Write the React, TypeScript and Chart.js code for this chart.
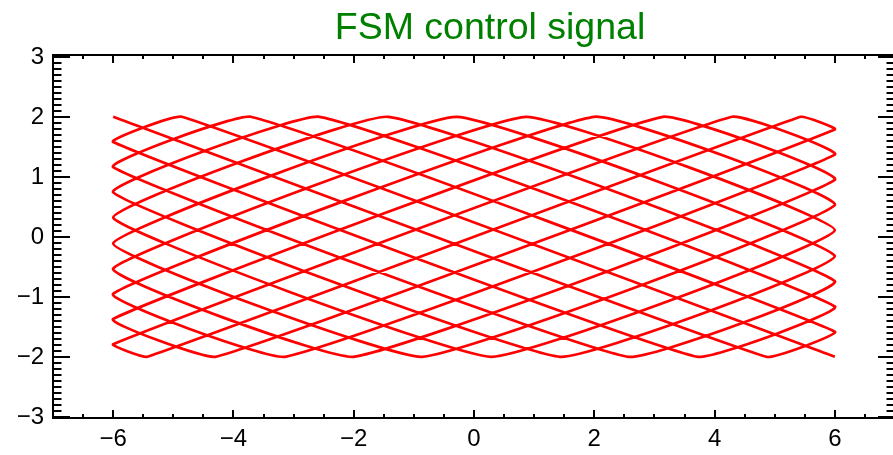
import React, { useEffect, useRef } from "react";
import { Chart, registerables } from "chart.js";

Chart.register(...registerables);

// Turning points of the scan path, in drawing order
const pathX = [
  -6, 4.86, 6, -3.71, -6, 2.57, 6, -1.43, -6, 0.29, 6, 0.86, -6, -2.0, 6, 3.14,
  -6, -4.29, 6, 5.43, -5.43, -6, 4.29, 6, -3.14, -6, 2.0, 6, -0.86, -6, -0.29,
  6, 1.43, -6, -2.57, 6, 3.71, -6, -4.86, 6,
];
const pathY = [
  2, -2, -1.58, 2, 1.16, -2, -0.74, 2, 0.32, -2, 0.11, 2, -0.53, -2, 0.95, 2,
  -1.37, -2, 1.79, 2, -2, -1.79, 2, 1.37, -2, -0.95, 2, 0.53, -2, -0.11, 2,
  -0.32, -2, 0.74, 2, -1.16, -2, 1.58, 2, -2,
];

const xTickLabels = [-6, -4, -2, 0, 2, 4, 6];
const yTickLabels = [-3, -2, -1, 0, 1, 2, 3];
const xMinorTicks = [
  -6.5, -5.5, -5, -4.5, -3.5, -3, -2.5, -1.5, -1, -0.5, 0.5, 1, 1.5, 2.5, 3,
  3.5, 4.5, 5, 5.5, 6.5,
];
const yMinorStep = 0.1;

const TITLE = "FSM control signal";
const FONT = "'Liberation Sans', Arial, Helvetica, sans-serif";

function fmt(v: number): string {
  return v < 0 ? "\u2212" + String(-v) : String(v);
}

const framePlugin = {
  id: "idlFrame",
  afterDraw(chart: any) {
    const { ctx, chartArea } = chart;
    const xs = chart.scales.x;
    const ys = chart.scales.y;
    const { left, right, top, bottom } = chartArea;
    ctx.save();
    ctx.strokeStyle = "#000";
    ctx.lineWidth = 2;
    ctx.lineCap = "butt";
    ctx.strokeRect(left, top, right - left, bottom - top);

    const majY = 17;
    const minY = 8.5;
    const majX = 8;
    const minX = 4;

    ctx.beginPath();
    for (const v of yTickLabels) {
      const p = Math.round(ys.getPixelForValue(v));
      ctx.moveTo(left, p);
      ctx.lineTo(left + majY, p);
      ctx.moveTo(right, p);
      ctx.lineTo(right - majY, p);
    }
    for (let i = -30; i <= 30; i++) {
      if (i % 10 === 0) continue;
      const v = i * yMinorStep;
      const p = Math.round(ys.getPixelForValue(v));
      ctx.moveTo(left, p);
      ctx.lineTo(left + minY, p);
      ctx.moveTo(right, p);
      ctx.lineTo(right - minY, p);
    }
    for (const v of xTickLabels) {
      const p = Math.round(xs.getPixelForValue(v));
      ctx.moveTo(p, bottom);
      ctx.lineTo(p, bottom - majX);
      ctx.moveTo(p, top);
      ctx.lineTo(p, top + majX);
    }
    for (const v of xMinorTicks) {
      const p = Math.round(xs.getPixelForValue(v));
      ctx.moveTo(p, bottom);
      ctx.lineTo(p, bottom - minX);
      ctx.moveTo(p, top);
      ctx.lineTo(p, top + minX);
    }
    ctx.stroke();

    ctx.fillStyle = "#000";
    ctx.font = `24px ${FONT}`;
    ctx.textAlign = "right";
    ctx.textBaseline = "middle";
    for (const v of yTickLabels) {
      const p = ys.getPixelForValue(v);
      ctx.fillText(fmt(v), left - 9, p + 1);
    }
    ctx.textAlign = "center";
    for (const v of xTickLabels) {
      const p = xs.getPixelForValue(v);
      ctx.fillText(fmt(v), p, bottom + 21);
    }

    ctx.fillStyle = "rgb(0,128,0)";
    ctx.font = `37.5px ${FONT}`;
    ctx.textAlign = "center";
    ctx.textBaseline = "alphabetic";
    ctx.fillText(TITLE, 490, 39);
    ctx.restore();
  },
};

export default function App() {
  const canvasRef = useRef<HTMLCanvasElement | null>(null);

  useEffect(() => {
    const canvas = canvasRef.current;
    if (!canvas) return;
    const points = pathX.map((x, i) => ({ x, y: pathY[i] }));
    const chart = new Chart(canvas, {
      type: "scatter",
      data: {
        datasets: [
          {
            data: points,
            showLine: true,
            borderColor: "#ff0000",
            borderWidth: 2.7,
            pointRadius: 0,
            pointHoverRadius: 0,
            tension: 0.1,
            borderJoinStyle: "round",
            borderCapStyle: "butt",
            fill: false,
          } as any,
        ],
      },
      options: {
        animation: false,
        responsive: false,
        events: [],
        layout: { padding: { left: 53, top: 55, right: 5, bottom: 37 } },
        plugins: {
          legend: { display: false },
          tooltip: { enabled: false },
          title: { display: false },
        },
        scales: {
          x: { type: "linear", min: -7, max: 7, display: false },
          y: { type: "linear", min: -3.02, max: 3.03, display: false },
        },
      },
      plugins: [framePlugin],
    });
    return () => chart.destroy();
  }, []);

  return (
    <div
      style={{
        position: "fixed",
        left: 0,
        top: 0,
        width: 893,
        height: 455,
        overflow: "hidden",
        background: "#fff",
      }}
    >
      <canvas
        ref={canvasRef}
        width={900}
        height={455}
        style={{ width: 900, height: 455, display: "block" }}
      />
    </div>
  );
}
